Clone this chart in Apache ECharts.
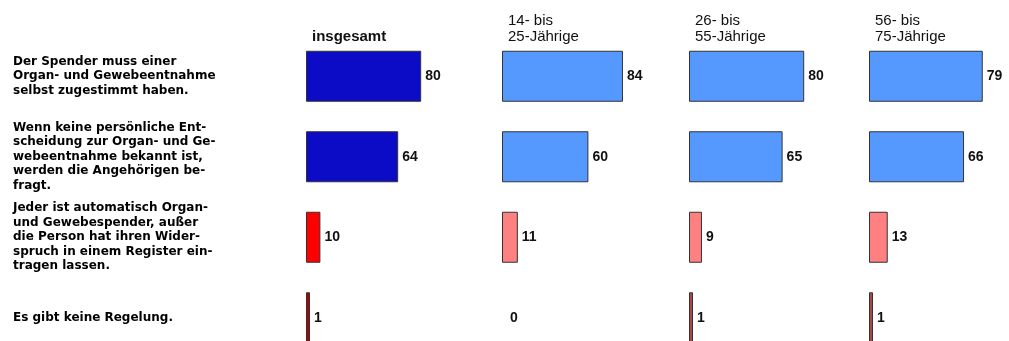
<!DOCTYPE html>
<html>
<head>
<meta charset="utf-8">
<script src="https://cdn.jsdelivr.net/npm/echarts@6/dist/echarts.min.js"></script>
<style>
  html, body { margin: 0; padding: 0; background: #fff; }
  #chart { width: 1009px; height: 341px; }
</style>
</head>
<body>
<div id="chart"></div>
<script>
// Spaltenköpfe (Gruppen)
var groups = ['insgesamt', '14- bis\n25-Jährige', '26- bis\n55-Jährige', '56- bis\n75-Jährige'];

// Aussagen (Kategorien)
var statements = [
  'Der Spender muss einer\nOrgan- und Gewebeentnahme\nselbst zugestimmt haben.',
  'Wenn keine persönliche Ent-\nscheidung zur Organ- und Ge-\nwebeentnahme bekannt ist,\nwerden die Angehörigen be-\nfragt.',
  'Jeder ist automatisch Organ-\nund Gewebespender, außer\ndie Person hat ihren Wider-\nspruch in einem Register ein-\ntragen lassen.',
  'Es gibt keine Regelung.'
];

// Werte in Prozent
var insgesamt = [80, 64, 10, 1];
var age14to25 = [84, 60, 11, 0];
var age26to55 = [80, 65, 9, 1];
var age56to75 = [79, 66, 13, 1];

var values = [insgesamt, age14to25, age26to55, age56to75];

// Farben je Aussage: erste Spalte kräftig, Altersgruppen heller
var colorsTotal = ['#0c0cc6', '#0c0cc6', '#ff0000', '#b00000'];
var colorsAge = ['#5599ff', '#5599ff', '#ff8080', '#a84848'];

var gridLeft = [306, 502, 689, 869];

var myChart = echarts.init(document.getElementById('chart'));

var grids = [], xAxes = [], yAxes = [], series = [], graphics = [];

for (var g = 0; g < groups.length; g++) {
  // Raster ragt unten über den Rand hinaus, daher outerBoundsMode aus
  grids.push({ left: gridLeft[g], top: 36, width: 144, height: 322, outerBoundsMode: 'none', containLabel: false });
  xAxes.push({
    gridIndex: g, type: 'value', min: 0, max: 100,
    show: false
  });
  yAxes.push({
    gridIndex: g, type: 'category', data: statements, inverse: true,
    axisLine: { show: false }, axisTick: { show: false }, splitLine: { show: false },
    axisLabel: g === 0 ? {
      show: true, align: 'left', margin: 293,
      fontFamily: 'DejaVu Sans', fontWeight: 'bold', fontSize: 12,
      lineHeight: 14.5, color: '#000',
      padding: [5, 0, 0, 0]
    } : { show: false }
  });

  var cols = g === 0 ? colorsTotal : colorsAge;
  series.push({
    type: 'bar',
    xAxisIndex: g, yAxisIndex: g,
    barWidth: 51,
    barMinHeight: 4,
    silent: true,
    animation: false,
    data: values[g].map(function (v, i) {
      return {
        value: v,
        itemStyle: {
          color: v === 0 ? 'transparent' : cols[i],
          borderColor: '#333',
          borderWidth: v === 0 ? 0 : 1
        }
      };
    }),
    label: {
      show: true, position: 'right', distance: 4,
      fontFamily: 'Liberation Sans, Arial, sans-serif', fontWeight: 'bold',
      fontSize: 14, color: '#111'
    }
  });

  graphics.push({
    type: 'text',
    left: gridLeft[g] + 6,
    bottom: 341 - 45,
    style: {
      text: groups[g],
      font: (g === 0 ? 'bold 15px' : '15px') + ' "Liberation Sans", Arial, sans-serif',
      fill: '#111',
      lineHeight: 16
    }
  });
}

var option = {
  backgroundColor: '#fff',
  animation: false,
  grid: grids,
  xAxis: xAxes,
  yAxis: yAxes,
  series: series,
  graphic: graphics
};

myChart.setOption(option);
</script>
</body>
</html>
